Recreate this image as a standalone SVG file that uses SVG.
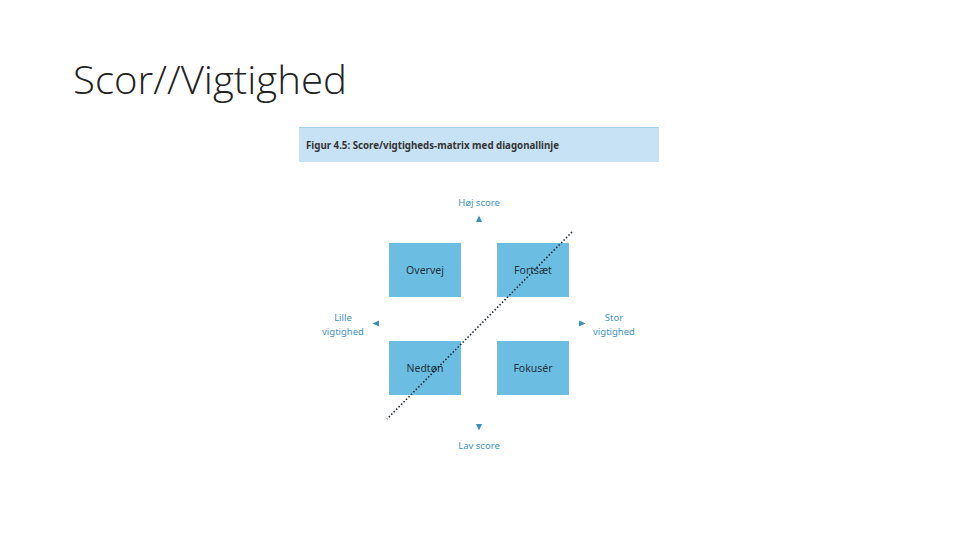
<svg xmlns="http://www.w3.org/2000/svg" width="960" height="540" viewBox="0 0 960 540">
<style>
.lbl{font-family:"Noto Sans","Liberation Sans",sans-serif;font-size:9.5px;fill:#3f93bd;text-anchor:middle}
.box{fill:#6cbde2}
.bt{font-family:"Noto Sans","Liberation Sans",sans-serif;font-size:10.5px;fill:#22333d;text-anchor:middle}
.tri{fill:#3a8fba}
</style>
<rect width="960" height="540" fill="#ffffff"/>
<text x="73" y="94" font-family="'Open Sans','Liberation Sans',sans-serif" font-weight="300" font-size="38" fill="#222" textLength="274" lengthAdjust="spacingAndGlyphs">Scor//Vigtighed</text>
<g id="header">
<rect x="299" y="127" width="360" height="35" fill="#c6e2f4"/>
<line x1="299" y1="127.5" x2="659" y2="127.5" stroke="#a9cfe8" stroke-width="1"/>
<text x="306" y="149" font-family="'Noto Sans','Liberation Sans',sans-serif" font-weight="bold" font-size="10" fill="#333" textLength="253" lengthAdjust="spacingAndGlyphs">Figur 4.5: Score/vigtigheds-matrix med diagonallinje</text>
</g>
<g id="overvej"><rect class="box" x="389" y="243" width="72" height="54"/><text class="bt" x="425" y="274">Overvej</text></g>
<g id="fortsaet"><rect class="box" x="497" y="243" width="72" height="54"/><text class="bt" x="533" y="274">Fortsæt</text></g>
<g id="nedtoen"><rect class="box" x="389" y="341" width="72" height="54"/><text class="bt" x="425" y="372">Nedtøn</text></g>
<g id="fokuser"><rect class="box" x="497" y="341" width="72" height="54"/><text class="bt" x="533" y="372">Fokusér</text></g>
<g id="hoej"><text class="lbl" x="479" y="206">Høj score</text><polygon class="tri" points="479,215.5 476,222 482,222"/></g>
<g id="lav"><text class="lbl" x="479" y="449">Lav score</text><polygon class="tri" points="479,430.5 476,424 482,424"/></g>
<g id="lille"><text class="lbl" x="343" y="321">Lille</text><text class="lbl" x="343" y="335">vigtighed</text><polygon class="tri" points="372.5,323.5 379,320.5 379,326.5"/></g>
<g id="stor"><text class="lbl" x="614" y="321">Stor</text><text class="lbl" x="614" y="335">vigtighed</text><polygon class="tri" points="585.5,323.5 579,320.5 579,326.5"/></g>
<g id="connectors">
<line x1="572" y1="232" x2="387" y2="419" stroke="#1a2a36" stroke-width="1.6" stroke-dasharray="1.5,2"/>
</g>
</svg>
